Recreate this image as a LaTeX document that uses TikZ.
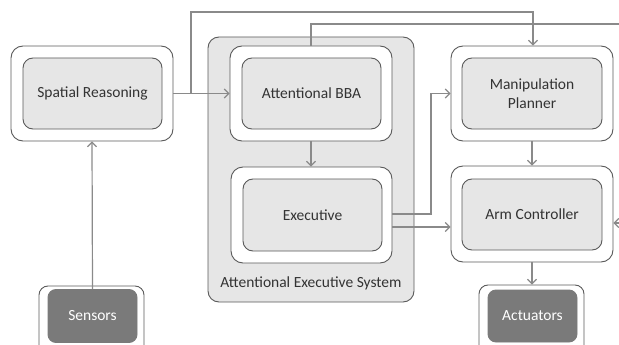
\documentclass[tikz,border=0pt]{standalone}
\usepackage{fontspec}
\setmainfont{Carlito}
\usetikzlibrary{arrows.meta,calc}
\definecolor{boxline}{HTML}{5A5A5A}
\definecolor{boxfill}{HTML}{E6E6E6}
\definecolor{wire}{HTML}{8A8A8A}
\definecolor{darkfill}{HTML}{7A7A7A}
\definecolor{txt}{HTML}{333333}
\tikzset{
  outerbox/.style={draw=boxline, line width=0.9pt, fill=white, rounded corners=12pt,
    inner sep=0pt, minimum width=#1},
  innerbox/.style={draw=boxline, line width=0.9pt, fill=boxfill, rounded corners=10pt,
    inner sep=0pt, minimum width=139pt, minimum height=71pt, align=center,
    text=txt, font=\fontsize{15.5}{18}\selectfont},
  darkbox/.style={draw=darkfill, line width=0.9pt, fill=darkfill, rounded corners=8pt,
    inner sep=0pt, minimum width=89pt, minimum height=53pt,
    text=white, font=\fontsize{15.5}{18}\selectfont},
  wireline/.style={draw=wire, line width=1.2pt},
  wirearrow/.style={wireline, -{Straight Barb[length=4.5pt,width=9pt]}},
}
\begin{document}
\begin{tikzpicture}[x=1pt,y=-1pt]
\useasboundingbox (0,0) rectangle (619,345);
\clip (0,0) rectangle (619,345);

% executive system container
\node[draw=boxline, line width=0.9pt, fill=boxfill, rounded corners=11pt,
      minimum width=206pt, minimum height=265pt, inner sep=0pt] (aes) at (311,169.5) {};
\node[text=txt, font=\fontsize{15.5}{18}\selectfont] (aeslabel) at (311,283) {Attentional Executive System};

% spatial reasoning
\node[outerbox=162pt, minimum height=95pt] (sro) at (92,93.5) {};
\node[innerbox] (sr) at (92.5,93.5) {Spatial Reasoning};

% attentional BBA
\node[outerbox=162pt, minimum height=95pt] (bbao) at (311,93.5) {};
\node[innerbox] (bba) at (311.5,93.5) {Attentional BBA};

% executive
\node[outerbox=161pt, minimum height=96pt] (exeo) at (311.5,215) {};
\node[innerbox, minimum height=72pt] (exe) at (312.5,215) {Executive};

% manipulation planner
\node[outerbox=162pt, minimum height=95pt] (mpo) at (532,93.5) {};
\node[innerbox, minimum width=140pt] (mp) at (532,93.5) {Manipulation\\[1pt]Planner};

% arm controller
\node[outerbox=162pt, minimum height=96pt] (aco) at (532,214) {};
\node[innerbox, minimum width=140pt] (ac) at (532,214.5) {Arm Controller};

% sensors and actuators
\node[outerbox=105pt, minimum height=70pt, rounded corners=9pt] (seno) at (91.5,321) {};
\node[darkbox] (sen) at (92.5,316) {Sensors};
\node[outerbox=105pt, minimum height=70pt, rounded corners=9pt] (acto) at (531.5,320) {};
\node[darkbox, minimum height=52pt] (act) at (532.5,316) {Actuators};

% helper points for the wiring
\coordinate (split) at (191,93.5);
\coordinate (topleft) at (191,12);
\coordinate (topright) at (533,12);
\coordinate (bbaup) at (311,24);
\coordinate (edgeA) at (619,24);
\coordinate (exA) at (392,214);
\coordinate (exB) at (392,227);
\coordinate (riseA) at (431,214);
\coordinate (riseB) at (431,93.5);
\coordinate (edgeB) at (619,223);

% connectors
\draw[wirearrow] (sen.north) -- (sro.south);
\draw[wirearrow] (sro.east) -- (bbao.west);
\draw[wirearrow] (split) -- (topleft) -- (topright) -- (mpo.north -| topright);
\draw[wireline] (bbao.north -| bbaup) -- (bbaup) -- (edgeA);
\draw[wirearrow] (bbao.south) -- (exeo.north -| bbao.south);
\draw[wirearrow] (exA) -- (riseA) -- (riseB) -- (mpo.west);
\draw[wirearrow] (exB) -- (aco.west |- exB);
\draw[wirearrow] (mpo.south) -- (aco.north);
\draw[wirearrow] (aco.south) -- (acto.north -| aco.south);
\draw[wirearrow] (edgeB) -- (aco.east |- edgeB);
\end{tikzpicture}
\end{document}
